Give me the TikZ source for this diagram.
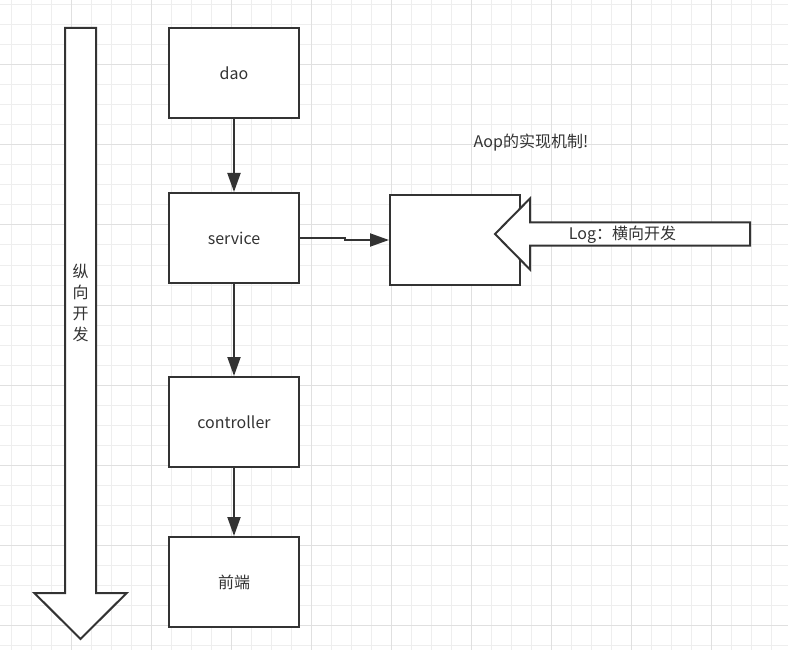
\documentclass[tikz,border=0pt]{standalone}
\usepackage{fontspec}
\setmainfont{Noto Sans CJK SC}
\usetikzlibrary{arrows.meta}

\definecolor{gridminor}{RGB}{238,238,238}
\definecolor{gridmajor}{RGB}{224,224,224}
\definecolor{ink}{RGB}{51,51,51}

\tikzset{every picture/.style={line width=2pt}}
\tikzset{
  box/.style={draw=ink, fill=white, minimum width=130pt, minimum height=90pt, inner sep=0pt, text=ink, font=\fontsize{16}{20}\selectfont},
  bigarrow/.style={draw=ink, fill=white, line join=miter},
  conn/.style={draw=ink, -{Triangle[length=19pt,width=13pt]}},
  txt/.style={inner sep=0.75pt, text=ink, font=\fontsize{16}{21}\selectfont, align=center}
}

\begin{document}
\begin{tikzpicture}[x=1pt,y=1pt,yscale=-1,xscale=1]
\useasboundingbox (0,0) rectangle (788,650);

%Grid
\foreach \i in {0,...,38} \draw [gridminor, line width=1pt] (11.7+20*\i,0) -- (11.7+20*\i,650) ;
\foreach \j in {0,...,32} \draw [gridminor, line width=1pt] (0,5+20*\j) -- (788,5+20*\j) ;
\foreach \i in {0,...,8} \draw [gridmajor, line width=1pt] (71.7+80*\i,0) -- (71.7+80*\i,650) ;
\foreach \j in {0,...,7} \draw [gridmajor, line width=1pt] (0,65+80*\j) -- (788,65+80*\j) ;

%Shape: Down Arrow
\draw [bigarrow] (65,28) -- (96,28) -- (96,593) -- (126.7,593) -- (80.5,639) -- (34.3,593) -- (65,593) -- cycle ;

%Shape: Rectangle
\draw (234,73) node (dao) [box] {dao};
%Shape: Rectangle
\draw (234,238) node (service) [box] {service};
%Shape: Rectangle
\draw (234,422) node (controller) [box] {controller};
%Shape: Rectangle
\draw (234,582) node (front) [box] {前端};
%Shape: Rectangle
\draw (455,240) node (aop) [box] {};

%Shape: Left Arrow
\draw [bigarrow] (750,222.3) -- (530,222.3) -- (530,198.5) -- (495,234) -- (530,269.5) -- (530,245.7) -- (750,245.7) -- cycle ;

%Straight Lines
\draw [conn] (dao) -- (service) ;
\draw [conn] (service) -- (controller) ;
\draw [conn] (controller) -- (front) ;
%Elbow Line
\draw [conn] (service.east) -- ++(45,0) |- (aop.west) ;

% Text Node
\draw (531,143) node (title) [txt] {Aop的实现机制!};
% Text Node
\draw (622.5,235) node (log) [txt] {Log：横向开发};
% Text Node
\draw (80.5,302.5) node (vert) [txt] {纵\\向\\开\\发};

\end{tikzpicture}
\end{document}
